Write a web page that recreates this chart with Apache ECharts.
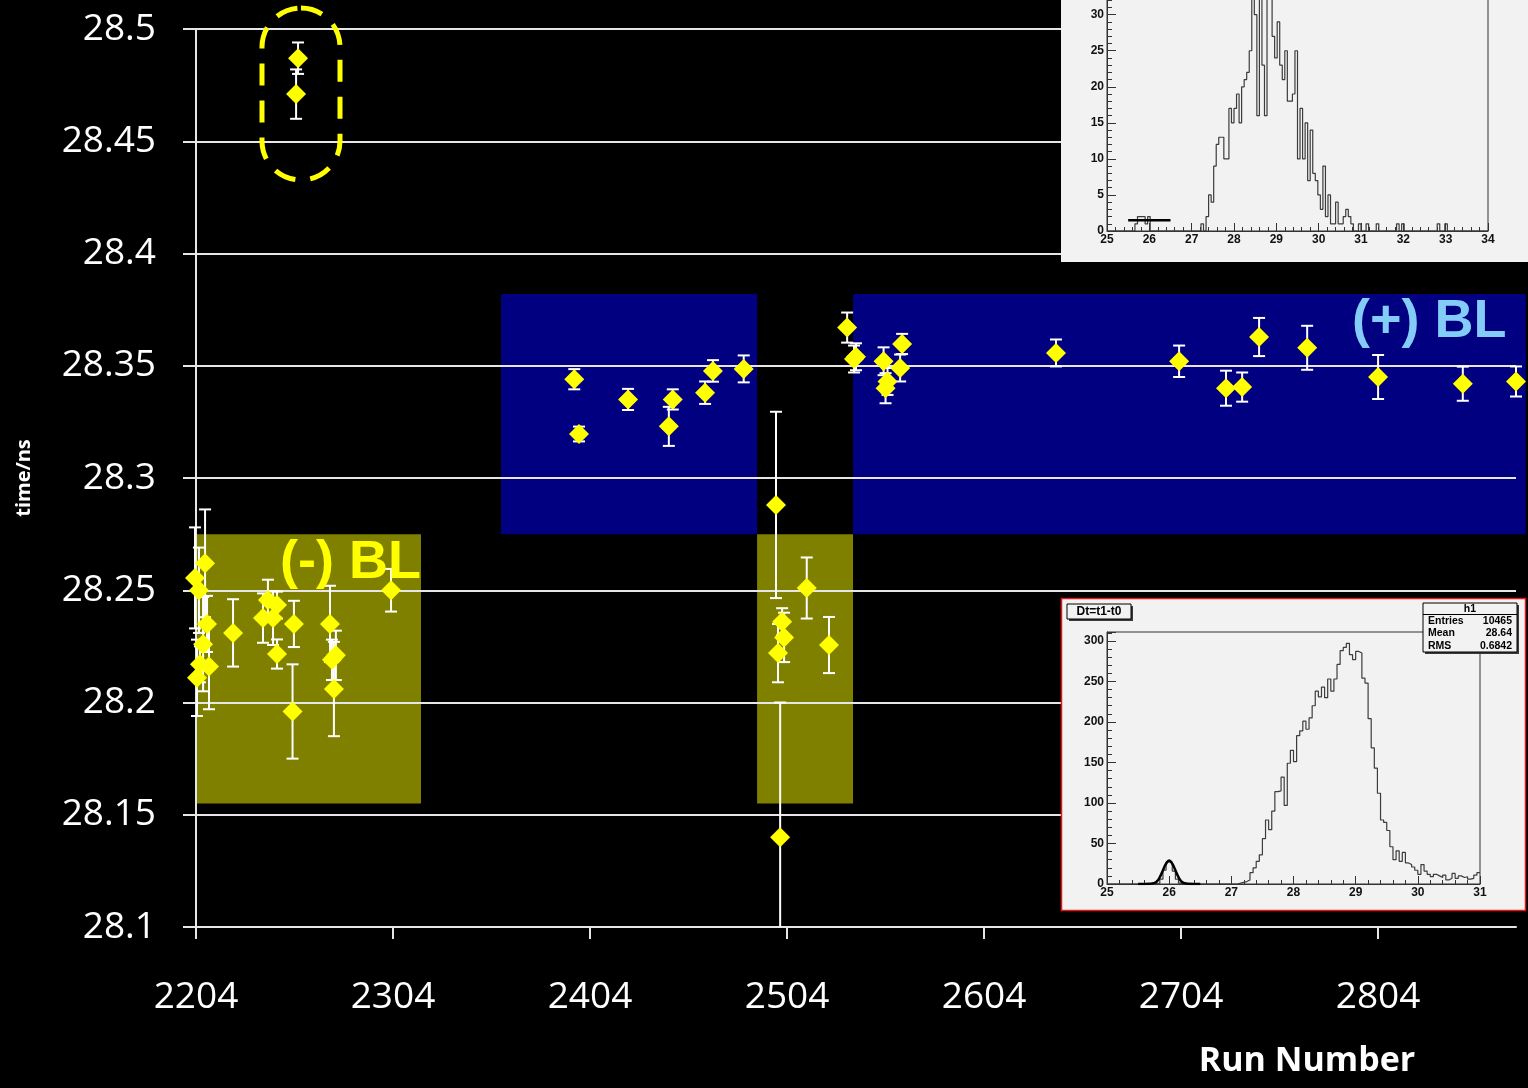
<!DOCTYPE html>
<html>
<head>
<meta charset="utf-8">
<script src="https://cdn.jsdelivr.net/npm/echarts@6/dist/echarts.min.js"></script>
<style>
  html, body { margin: 0; padding: 0; background: #000; }
  #chart { width: 1528px; height: 1088px; }
</style>
</head>
<body>
<div id="chart"></div>
<script>
// ---- Timing per run: mean t1-t0 (ns) with its uncertainty ----
const runs = [
  2203.5, 2204.5, 2205.5, 2206, 2207.6, 2208.6, 2209.6, 2210.6, 2222.8,
  2238, 2240.5, 2243.1, 2245.1, 2245.1, 2253.7, 2253, 2254.8, 2255.8,
  2272, 2273, 2275, 2274, 2303,
  2396, 2398.4, 2423.3, 2444, 2446, 2462.4, 2466.4, 2482,
  2498.4, 2499.4, 2500.5, 2501.5, 2502.5, 2514, 2525.3,
  2534.5, 2538, 2539, 2553, 2554, 2555, 2561.4, 2562.4, 2640.5,
  2703, 2726.8, 2735, 2743.6, 2768, 2804, 2847, 2874
];
const times = [
  28.2555, 28.211, 28.250, 28.217, 28.226, 28.262, 28.235, 28.216, 28.231,
  28.2376, 28.2457, 28.2376, 28.2434, 28.2216, 28.235, 28.196, 28.471, 28.487,
  28.235, 28.219, 28.221, 28.206, 28.250,
  28.344, 28.3196, 28.335, 28.323, 28.335, 28.338, 28.3477, 28.3486,
  28.288, 28.222, 28.140, 28.236, 28.229, 28.251, 28.2256,
  28.367, 28.353, 28.354, 28.352, 28.340, 28.343, 28.349, 28.3597, 28.3557,
  28.352, 28.340, 28.3405, 28.3628, 28.358, 28.345, 28.342, 28.343
];
const errors = [
  0.0225, 0.017, 0.019, 0.008, 0.021, 0.024, 0.0125, 0.019, 0.015,
  0.011, 0.009, 0.012, 0.006, 0.0065, 0.0103, 0.021, 0.011, 0.007,
  0.017, 0.009, 0.011, 0.021, 0.0095,
  0.0045, 0.0033, 0.0047, 0.0087, 0.0045, 0.005, 0.0048, 0.006,
  0.0415, 0.013, 0.06, 0.006, 0.011, 0.0136, 0.0125,
  0.0067, 0.006, 0.006, 0.0062, 0.0067, 0.006, 0.006, 0.0045, 0.006,
  0.007, 0.0078, 0.0065, 0.0085, 0.0098, 0.0098, 0.0076, 0.0067
];
const runTicks = [2204, 2304, 2404, 2504, 2604, 2704, 2804];

// Beam-line polarity periods (run range x time range)
const bandKinds = ['minus', 'minus', 'plus', 'plus'];
const bandRunFrom = [2204, 2488.8, 2358.8, 2537.5];
const bandRunTo   = [2318.2, 2537.5, 2488.8, 2879];
const bandTimeLow = [28.155, 28.155, 28.275, 28.275];
const bandTimeHigh = [28.275, 28.275, 28.382, 28.382];

// ---- Dt distribution for a single run (0.06 ns bins from 25 ns) ----
const runHistLow = 25, runHistBin = 0.06;
const runHistCounts = [
  0,0,0,0,0,0,0,0,0,0,0,
  1,2,2,2,1,2,0,
  0,0,0,0,0,0,0,0,0,0,0,0,0,0,0,0,0,0,0,
  1,0,
  2,5,4,9,12,13,13,10,10,17,
  15,17,19,15,20,21,22,25,33,30,
  16,36,23,16,35,33,27,24,29,23,
  21,25,18,18,19,25,10,17,10,15,
  7,14,8,7,5,3,9,2,5,1,
  1,4,1,1,2,3,2,1,
  0,0,1,0,0,1,0,0,0,1,
  0,0,0,0,0,0,0,1,0,1,
  0,0,0,0,0,0,0,0,0,0,0,0,0,1,0,0,1,
  0,0,0,0,0,0,0,0,0,0,0,0,0,0,0,0
];
const runFitX = [25.5, 26.5];
const runFitY = [1.5, 1.5];

// ---- Dt=t1-t0 summed over all runs (0.05 ns bins from 25 ns) ----
const sumHistLow = 25, sumHistBin = 0.05;
const sumHistCounts = [
  0,0,0,0,0,0,0,0,0,0,0,0,0,0,0,0,
  1,6,17,27,27,16,6,1,
  0,0,0,0,0,0,0,0,0,0,0,0,0,0,0,0,0,0,
  1,2,3,5,
  14,20,28,36,56,79,67,90,114,115,
  132,97,149,165,151,183,189,201,191,205,
  220,238,231,243,230,253,238,253,271,288,
  292,297,283,277,287,285,254,248,204,168,
  143,112,79,76,66,46,30,41,28,39,
  26,24,21,17,12,24,16,12,9,12,
  10,8,11,5,7,13,7,10,8,9,
  6,7,11,14
];
const sumFitX = [25.5, 25.7, 25.75, 25.8, 25.85, 25.9, 25.95, 26.0, 26.05, 26.1, 26.15, 26.2, 26.25, 26.3, 26.5];
const sumFitY = [0, 0.3, 1, 3, 8.5, 17, 25, 29, 25, 17, 8.5, 3, 1, 0.3, 0];
const sumStats = [['Entries', '10465'], ['Mean', '28.64'], ['RMS', '0.6842']];

// ---------------------------------------------------------------
const chart = echarts.init(document.getElementById('chart'));

const GRID_LINE = '#e6e6e6';
const bandFill = { minus: '#808000', plus: '#000080' };
const rootFont = '"Liberation Sans", Arial, sans-serif';

function histSteps(low, bin, counts) {
  const pts = counts.map((c, k) => [low + k * bin, c]);
  pts.push([low + counts.length * bin, counts[counts.length - 1]]);
  return pts;
}

function rootXAxis(gridIndex, min, max) {
  return {
    gridIndex, type: 'value', min, max, interval: 1, z: 21,
    axisLine: { show: true, onZero: false, lineStyle: { color: '#333', width: 1 } },
    axisTick: { show: true, inside: true, length: 8, lineStyle: { color: '#333', width: 1 } },
    minorTick: { show: true, splitNumber: 5, length: 4, lineStyle: { color: '#333', width: 1 } },
    axisLabel: { margin: 3, color: '#111', fontSize: 12, fontWeight: 'bold', fontFamily: rootFont },
    splitLine: { show: false }, minorSplitLine: { show: false }
  };
}
function rootYAxis(gridIndex, max, interval) {
  return {
    gridIndex, type: 'value', min: 0, max, interval, z: 21,
    axisLine: { show: true, onZero: false, lineStyle: { color: '#333', width: 1 } },
    axisTick: { show: true, inside: true, length: 9, lineStyle: { color: '#333', width: 1 } },
    minorTick: { show: true, splitNumber: 5, length: 5, lineStyle: { color: '#333', width: 1 } },
    axisLabel: { margin: 3, color: '#111', fontSize: 12, fontWeight: 'bold', fontFamily: rootFont, showMaxLabel: false },
    splitLine: { show: false }, minorSplitLine: { show: false }
  };
}

function renderBand(params, api) {
  const a = api.coord([api.value(0), api.value(3)]);
  const b = api.coord([api.value(2), api.value(1)]);
  return {
    type: 'rect',
    shape: { x: a[0], y: a[1], width: b[0] - a[0], height: b[1] - a[1] },
    style: { fill: bandFill[bandKinds[params.dataIndex]] }
  };
}

function renderErrorBar(params, api) {
  const x = api.value(0), y = api.value(1), e = api.value(2);
  const hi = api.coord([x, y + e]);
  const lo = api.coord([x, y - e]);
  const cs = params.coordSys;
  const yTop = cs.y, yBottom = cs.y + cs.height;
  const style = { stroke: '#ffffff', lineWidth: 2 };
  const cap = 6;
  const children = [{
    type: 'line',
    shape: { x1: hi[0], y1: Math.max(hi[1], yTop), x2: lo[0], y2: Math.min(lo[1], yBottom) },
    style
  }];
  if (hi[1] >= yTop) children.push({ type: 'line', shape: { x1: hi[0] - cap, y1: hi[1], x2: hi[0] + cap, y2: hi[1] }, style });
  if (lo[1] <= yBottom) children.push({ type: 'line', shape: { x1: lo[0] - cap, y1: lo[1], x2: lo[0] + cap, y2: lo[1] }, style });
  return { type: 'group', children };
}

const statElements = [];
sumStats.forEach((row, i) => {
  const y = 621 + i * 12.5;
  statElements.push({ type: 'text', z: 25, x: 1428, y, style: { text: row[0], fill: '#000', font: 'bold 10.5px ' + rootFont, textVerticalAlign: 'middle' } });
  statElements.push({ type: 'text', z: 25, x: 1512, y, style: { text: row[1], fill: '#000', font: 'bold 10.5px ' + rootFont, textAlign: 'right', textVerticalAlign: 'middle' } });
});

const option = {
  backgroundColor: '#000000',
  animation: false,
  grid: [
    { left: 196, right: 12, top: 29, bottom: 161, outerBoundsMode: 'none' },
    { left: 1107, right: 40, top: -43, height: 274, outerBoundsMode: 'none',
      show: true, backgroundColor: 'transparent', borderColor: '#333', borderWidth: 1, z: 21 },
    { left: 1107, right: 48, top: 632, height: 252, outerBoundsMode: 'none',
      show: true, backgroundColor: 'transparent', borderColor: '#333', borderWidth: 1, z: 21 }
  ],
  xAxis: [
    {
      gridIndex: 0, type: 'value', min: 2204, max: 2874, interval: 100, z: 1,
      axisLine: { show: true, onZero: false, lineStyle: { color: GRID_LINE, width: 2 } },
      axisTick: { show: true, customValues: runTicks, length: 12, lineStyle: { color: GRID_LINE, width: 2 } },
      axisLabel: {
        customValues: runTicks, margin: 52, color: '#ffffff', fontSize: 37,
        fontFamily: '"Open Sans", sans-serif', formatter: v => String(v)
      },
      splitLine: { show: false }
    },
    rootXAxis(1, 25, 34),
    rootXAxis(2, 25, 31)
  ],
  yAxis: [
    {
      gridIndex: 0, type: 'value', min: 28.1, max: 28.5, interval: 0.05, z: 1,
      axisLine: { show: true, onZero: false, lineStyle: { color: GRID_LINE, width: 2 } },
      axisTick: { show: true, length: 13, lineStyle: { color: GRID_LINE, width: 2 } },
      axisLabel: {
        margin: 40, color: '#ffffff', fontSize: 37, fontFamily: '"Open Sans", sans-serif',
        formatter: v => String(+v.toFixed(2))
      },
      splitLine: { show: true, lineStyle: { color: GRID_LINE, width: 2 } }
    },
    rootYAxis(1, 38, 5),
    rootYAxis(2, 311, 50)
  ],
  series: [
    {
      type: 'custom', name: 'beam line', xAxisIndex: 0, yAxisIndex: 0, z: 0, clip: false,
      data: bandRunFrom.map((x, i) => [x, bandTimeLow[i], bandRunTo[i], bandTimeHigh[i]]),
      encode: { x: [0, 2], y: [1, 3] },
      renderItem: renderBand, silent: true
    },
    {
      type: 'custom', name: 'error', xAxisIndex: 0, yAxisIndex: 0, z: 3, clip: false,
      data: runs.map((r, i) => [r, times[i], errors[i]]),
      encode: { x: 0, y: 1 },
      renderItem: renderErrorBar, silent: true
    },
    {
      type: 'scatter', name: 'time', xAxisIndex: 0, yAxisIndex: 0, z: 4, clip: false,
      symbol: 'diamond', symbolSize: 20,
      itemStyle: { color: '#ffff00', opacity: 1 },
      data: runs.map((r, i) => [r, times[i]])
    },
    {
      type: 'line', name: 'run Dt', xAxisIndex: 1, yAxisIndex: 1, z: 22, step: 'end',
      showSymbol: false, symbol: 'none', silent: true,
      lineStyle: { color: '#3c3c3c', width: 1.2 },
      data: histSteps(runHistLow, runHistBin, runHistCounts)
    },
    {
      type: 'line', name: 'run fit', xAxisIndex: 1, yAxisIndex: 1, z: 23,
      showSymbol: false, symbol: 'none', silent: true,
      lineStyle: { color: '#000', width: 2.5 },
      data: runFitX.map((x, i) => [x, runFitY[i]])
    },
    {
      type: 'line', name: 'Dt=t1-t0', xAxisIndex: 2, yAxisIndex: 2, z: 22, step: 'end',
      showSymbol: false, symbol: 'none', silent: true,
      lineStyle: { color: '#3c3c3c', width: 1.2 },
      data: histSteps(sumHistLow, sumHistBin, sumHistCounts)
    },
    {
      type: 'line', name: 'sum fit', xAxisIndex: 2, yAxisIndex: 2, z: 23, smooth: true,
      showSymbol: false, symbol: 'none', silent: true,
      lineStyle: { color: '#000', width: 2.5 },
      data: sumFitX.map((x, i) => [x, sumFitY[i]])
    }
  ],
  graphic: [
    // highlighted pair of early runs
    { type: 'rect', z: 5, silent: true,
      shape: { x: 262, y: 8, width: 78, height: 172, r: 39 },
      style: { fill: 'none', stroke: '#ffff00', lineWidth: 5, lineDash: [22, 15] } },
    { type: 'text', z: 5, x: 280, y: 563, silent: true,
      style: { text: '(-) BL', fill: '#ffff00', font: 'bold 54px "Liberation Sans", Arial, sans-serif', textVerticalAlign: 'middle' } },
    { type: 'text', z: 5, x: 1352, y: 322, silent: true,
      style: { text: '(+) BL', fill: '#84ccf8', font: 'bold 54px "Liberation Sans", Arial, sans-serif', textVerticalAlign: 'middle' } },
    { type: 'text', z: 5, x: 24, y: 478, rotation: Math.PI / 2, silent: true,
      style: { text: 'time/ns', fill: '#ffffff', font: 'bold 20px "Open Sans", sans-serif', textAlign: 'center', textVerticalAlign: 'middle' } },
    { type: 'text', z: 5, x: 1307, y: 1061, silent: true,
      style: { text: 'Run Number', fill: '#ffffff', font: 'bold 34px "Open Sans", sans-serif', textAlign: 'center', textVerticalAlign: 'middle' } },

    // histogram panels
    { type: 'rect', z: 20, silent: true, shape: { x: 1061, y: 0, width: 467, height: 262 }, style: { fill: '#f2f2f2' } },
    { type: 'rect', z: 20, silent: true, shape: { x: 1061.5, y: 598.5, width: 464, height: 312 },
      style: { fill: '#f2f2f2', stroke: '#e01818', lineWidth: 1.5 } },

    // title box
    { type: 'rect', z: 24, silent: true, shape: { x: 1069, y: 606, width: 64, height: 15 }, style: { fill: '#3a3a3a' } },
    { type: 'rect', z: 24, silent: true, shape: { x: 1067, y: 604, width: 64, height: 15 }, style: { fill: '#f2f2f2', stroke: '#000', lineWidth: 1 } },
    { type: 'text', z: 25, x: 1099, y: 611.5, silent: true,
      style: { text: 'Dt=t1-t0', fill: '#000', font: 'bold 12px ' + rootFont, textAlign: 'center', textVerticalAlign: 'middle' } },

    // statistics box
    { type: 'rect', z: 24, silent: true, shape: { x: 1425, y: 605, width: 94, height: 49 }, style: { fill: '#3a3a3a' } },
    { type: 'rect', z: 24, silent: true, shape: { x: 1423, y: 603, width: 94, height: 49 }, style: { fill: '#f2f2f2', stroke: '#000', lineWidth: 1 } },
    { type: 'line', z: 25, silent: true, shape: { x1: 1423, y1: 614.5, x2: 1517, y2: 614.5 }, style: { stroke: '#000', lineWidth: 1 } },
    { type: 'text', z: 25, x: 1470, y: 609, silent: true,
      style: { text: 'h1', fill: '#000', font: 'bold 10.5px ' + rootFont, textAlign: 'center', textVerticalAlign: 'middle' } }
  ].concat(statElements)
};

chart.setOption(option);
</script>
</body>
</html>
